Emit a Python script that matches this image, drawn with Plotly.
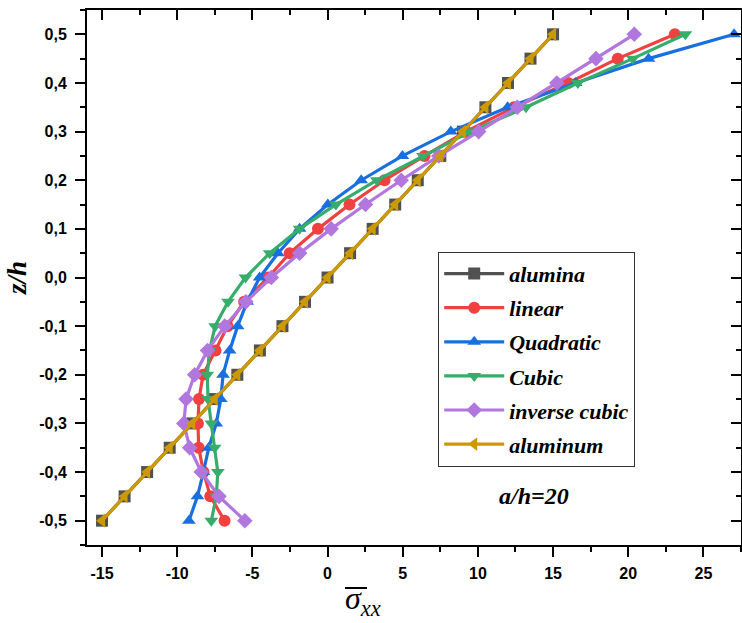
import plotly.graph_objects as go

# Through-thickness coordinate z/h
z_over_h = [-0.5, -0.45, -0.4, -0.35, -0.3, -0.25, -0.2, -0.15, -0.1, -0.05, 0.0,
            0.05, 0.1, 0.15, 0.2, 0.25, 0.3, 0.35, 0.4, 0.45, 0.5]

# Normalised axial stress sigma_xx for each material profile
alumina = [-15.0, -13.5, -12.0, -10.5, -9.0, -7.5, -6.0, -4.5, -3.0, -1.5, 0.0,
           1.5, 3.0, 4.5, 6.0, 7.5, 9.0, 10.5, 12.0, 13.5, 15.0]
linear = [-6.85, -7.8, -8.25, -8.57, -8.62, -8.55, -8.28, -7.45, -6.65, -5.55, -3.95,
          -2.52, -0.64, 1.46, 3.79, 6.45, 9.2, 12.4, 16.0, 19.3, 23.1]
quadratic = [-9.22, -8.65, -8.26, -7.9, -7.4, -7.1, -6.95, -6.51, -5.98, -5.35, -4.52,
             -3.3, -1.86, 0.02, 2.24, 4.98, 8.2, 11.98, 16.5, 21.35, 27.04]
cubic = [-7.73, -7.4, -7.3, -7.51, -7.73, -7.95, -8.0, -7.85, -7.48, -6.62, -5.46,
         -3.85, -1.86, 0.55, 3.28, 6.35, 9.5, 13.2, 16.65, 20.3, 23.8]
inverse_cubic = [-5.5, -7.22, -8.4, -9.17, -9.56, -9.41, -8.84, -7.98, -6.84, -5.43, -3.74,
                 -1.86, 0.24, 2.52, 4.9, 7.4, 10.05, 12.62, 15.25, 17.85, 20.4]
aluminum = [-15.0, -13.5, -12.0, -10.5, -9.0, -7.5, -6.0, -4.5, -3.0, -1.5, 0.0,
            1.5, 3.0, 4.5, 6.0, 7.5, 9.0, 10.5, 12.0, 13.5, 15.0]

series_names = ["alumina", "linear", "Quadratic", "Cubic", "inverse cubic", "aluminum"]
series_values = [alumina, linear, quadratic, cubic, inverse_cubic, aluminum]
series_colors = ["#515151", "#F14040", "#1A6FDF", "#37AD6B", "#B177DE", "#CC9900"]
series_symbols = ["square", "circle", "triangle-up", "triangle-down", "diamond", "triangle-left"]

x_tick_vals = [-15, -10, -5, 0, 5, 10, 15, 20, 25]
x_tick_text = ["-15", "-10", "-5", "0", "5", "10", "15", "20", "25"]
y_tick_vals = [-0.5, -0.4, -0.3, -0.2, -0.1, 0.0, 0.1, 0.2, 0.3, 0.4, 0.5]
y_tick_text = ["-0,5", "-0,4", "-0,3", "-0,2", "-0,1", "0,0", "0,1", "0,2", "0,3", "0,4", "0,5"]

X_RANGE = [-16.0, 27.5]
Y_RANGE = [-0.55, 0.55]

W, H = 742, 623
M_L, M_R, M_T, M_B = 87, 1, 10, 78
PLOT_W = W - M_L - M_R
PLOT_H = H - M_T - M_B


def px_to_paper(px, py):
    """Convert page pixel position to paper coordinates."""
    return (px - M_L) / PLOT_W, (H - M_B - py) / PLOT_H


serif = "Liberation Serif"
sans = "Liberation Sans"

fig = go.Figure()

for name, vals, color, sym in zip(series_names, series_values, series_colors, series_symbols):
    fig.add_trace(go.Scatter(
        x=vals, y=z_over_h, name=name, mode="lines+markers",
        legendgroup=name,
        line=dict(color=color, width=3.2),
        marker=dict(symbol=sym, size=12, color=color, line=dict(width=0)),
        cliponaxis=False,
        hoverinfo="skip",
    ))

# empty trace so the top/right frame axes are created
fig.add_trace(go.Scatter(x=[], y=[], xaxis="x2", yaxis="y2", showlegend=False,
                         hoverinfo="skip"))

axis_common = dict(showgrid=False, zeroline=False, showline=True, linecolor="black",
                   linewidth=2)

# x-axis title: sigma with an overbar and "xx" subscript
sig_x, sig_y = px_to_paper(343, 600)
bar_x0, bar_y = px_to_paper(345, 588)
bar_x1, _ = px_to_paper(367, 588)

fig.update_layout(
    width=W, height=H,
    margin=dict(l=M_L, r=M_R, t=M_T, b=M_B),
    plot_bgcolor="white", paper_bgcolor="white",
    showlegend=True,
    xaxis=dict(
        **axis_common, range=X_RANGE,
        tickvals=x_tick_vals, ticktext=x_tick_text,
        ticks="outside", ticklen=10, tickwidth=2, tickcolor="black",
        minor=dict(ticks="outside", ticklen=5, tickwidth=2, dtick=2.5, tick0=0,
                   tickcolor="black"),
        tickfont=dict(family=sans, size=16, color="black", weight="bold"),
        ticklabelstandoff=3,
    ),
    yaxis=dict(
        **axis_common, range=Y_RANGE,
        tickvals=y_tick_vals, ticktext=y_tick_text,
        ticks="outside", ticklen=10, tickwidth=2, tickcolor="black",
        minor=dict(ticks="outside", ticklen=5, tickwidth=2, dtick=0.05, tick0=0,
                   tickcolor="black"),
        tickfont=dict(family=sans, size=16, color="black", weight="bold"),
        ticklabelstandoff=5,
        title=dict(text="z/h", standoff=5,
                   font=dict(family=serif, size=27, color="black", style="italic",
                             weight="bold")),
    ),
    xaxis2=dict(
        **axis_common, overlaying="x", side="top", matches="x", range=X_RANGE,
        tickvals=x_tick_vals, showticklabels=False,
        ticks="inside", ticklen=10, tickwidth=2, tickcolor="black",
        minor=dict(ticks="inside", ticklen=5, tickwidth=2, dtick=2.5, tick0=0,
                   tickcolor="black"),
    ),
    yaxis2=dict(
        **axis_common, overlaying="y", side="right", matches="y", range=Y_RANGE,
        tickvals=y_tick_vals, showticklabels=False,
        ticks="inside", ticklen=10, tickwidth=2, tickcolor="black",
        minor=dict(ticks="inside", ticklen=5, tickwidth=2, dtick=0.05, tick0=0,
                   tickcolor="black"),
    ),
    legend=dict(
        x=0.537, y=0.548, xanchor="left", yanchor="top",
        bgcolor="white", bordercolor="#333333", borderwidth=1,
        font=dict(family=serif, size=22, color="black", style="italic", weight="bold"),
        tracegroupgap=2.5, itemsizing="trace", itemwidth=60,
    ),
    annotations=[
        dict(text="a/h=20", x=13.76, y=-0.45, xref="x", yref="y", showarrow=False,
             font=dict(family=serif, size=24, color="black", style="italic",
                       weight="bold")),
        dict(text="σ<sub>xx</sub>", x=sig_x, y=sig_y, xref="paper", yref="paper",
             xanchor="left", yanchor="middle", showarrow=False,
             font=dict(family=serif, size=32, color="black", style="italic")),
    ],
    shapes=[
        dict(type="line", xref="paper", yref="paper", x0=bar_x0, x1=bar_x1,
             y0=bar_y, y1=bar_y, line=dict(color="black", width=2)),
    ],
)

fig.write_html("out.html", config={"displayModeBar": False})
